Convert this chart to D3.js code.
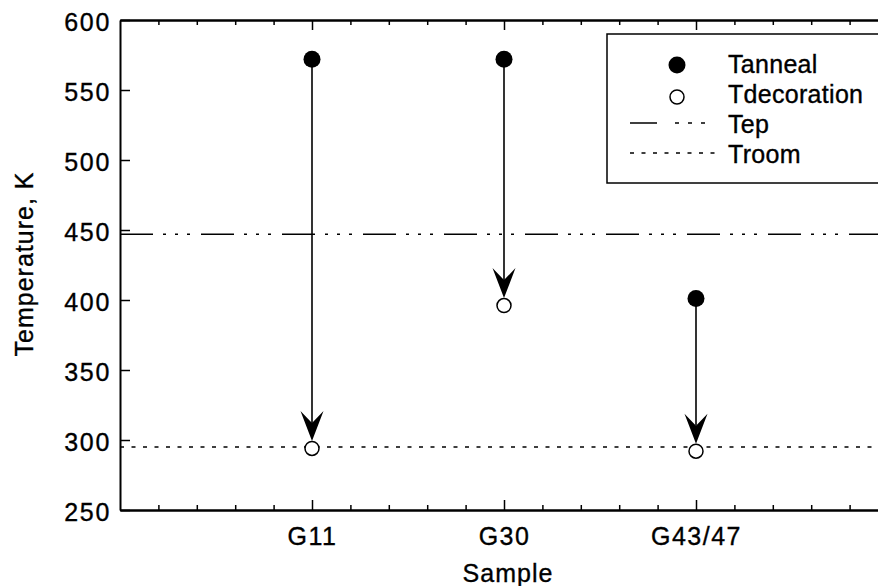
<!DOCTYPE html>
<html>
<head>
<meta charset="utf-8">
<script src="https://cdn.jsdelivr.net/npm/d3@7"></script>
<style>
  html, body { margin: 0; padding: 0; background: #fff; }
  svg { display: block; }
  text { font-family: "Liberation Sans", Arial, Helvetica, sans-serif; fill: #000; stroke: #000; stroke-width: 0.35px; }
</style>
</head>
<body>
<svg id="chart" width="878" height="586"></svg>
<script>
// Samples and temperatures (K)
const samples = ["G11", "G30", "G43/47"];
const tAnneal = [572, 572, 401];
const tDecoration = [294, 396, 292];
const tEp = 447;
const tRoom = 295;
const yTicks = [250, 300, 350, 400, 450, 500, 550, 600];

const svg = d3.select("#chart");
const W = 878;
const plotLeft = 120, plotRight = 888, plotTop = 20, plotBottom = 510;

const x = d3.scaleLinear().domain([0, 4]).range([plotLeft, plotRight]);
const y = d3.scaleLinear().domain([250, 600]).range([plotBottom, plotTop]);

const FS = 25;

// Reference lines
const refLine = (v, dash) => svg.append("line")
  .attr("x1", plotLeft).attr("x2", W + 20)
  .attr("y1", y(v)).attr("y2", y(v))
  .attr("stroke", "#000").attr("stroke-width", 1.5)
  .attr("stroke-dasharray", dash);
refLine(tEp, "33,10,3,9,3,9,3,11");
refLine(tRoom, "4,7.5");

// Axes: ticks pointing inward
const minorTicks = d3.range(0, 4.001, 0.2).filter(v => Math.abs(v - Math.round(v)) > 1e-6);
const majorTicks = [1, 2, 3];

const axisG = svg.append("g");
const xBottom = d3.axisBottom(x).tickValues(minorTicks).tickSizeInner(-5).tickSizeOuter(0).tickFormat("");
axisG.append("g").attr("transform", `translate(0,${plotBottom})`).call(xBottom);
const xBottomMajor = d3.axisBottom(x).tickValues(majorTicks).tickSizeInner(-10).tickSizeOuter(0)
  .tickFormat(i => samples[i - 1]);
const gBM = axisG.append("g").attr("transform", `translate(0,${plotBottom})`).call(xBottomMajor);
gBM.selectAll("text").attr("y", 35).attr("dy", null)
  .style("font-size", FS + "px").style("letter-spacing", "1.5px");
gBM.attr("font-family", null).attr("font-size", null);

const xTop = d3.axisTop(x).tickValues(minorTicks).tickSizeInner(-5).tickSizeOuter(0).tickFormat("");
axisG.append("g").attr("transform", `translate(0,${plotTop})`).call(xTop);
const xTopMajor = d3.axisTop(x).tickValues(majorTicks).tickSizeInner(-10).tickSizeOuter(0).tickFormat("");
axisG.append("g").attr("transform", `translate(0,${plotTop})`).call(xTopMajor);

const yAxis = d3.axisLeft(y).tickValues(yTicks).tickSizeInner(-10).tickSizeOuter(0);
const gY = axisG.append("g").attr("transform", `translate(${plotLeft},0)`).call(yAxis);
gY.selectAll("text").attr("dy", "0.42em").attr("x", -9)
  .style("font-size", FS + "px").style("letter-spacing", "1.7px");
gY.attr("font-family", null).attr("font-size", null);

axisG.selectAll(".domain").attr("stroke", "#000").attr("stroke-width", 2);
axisG.selectAll(".tick line").attr("stroke", "#000").attr("stroke-width", 1.5);
axisG.selectAll("text").attr("fill", "#000");

// axis titles
svg.append("text")
  .attr("transform", `translate(33,264) rotate(-90)`)
  .attr("text-anchor", "middle")
  .style("font-size", FS + "px").style("letter-spacing", "1px")
  .text("Temperature, K");
svg.append("text")
  .attr("x", 508).attr("y", 582)
  .attr("text-anchor", "middle")
  .style("font-size", FS + "px").style("letter-spacing", "1px")
  .text("Sample");

// Arrows from anneal to decoration temperature
const rOpen = 7, rFilled = 8.5;
const headLen = 30, headHalf = 11.5, notch = 18;
samples.forEach((s, i) => {
  const cx = x(i + 1);
  const y0 = y(tAnneal[i]);
  const tip = y(tDecoration[i]) - rOpen - 0.5;
  svg.append("line")
    .attr("x1", cx).attr("x2", cx)
    .attr("y1", y0).attr("y2", tip - notch)
    .attr("stroke", "#000").attr("stroke-width", 1.6);
  svg.append("path")
    .attr("d", `M${cx},${tip} L${cx - headHalf},${tip - headLen} L${cx},${tip - notch} L${cx + headHalf},${tip - headLen} Z`)
    .attr("fill", "#000");
});

// markers
svg.selectAll("circle.anneal").data(tAnneal).enter().append("circle")
  .attr("class", "anneal")
  .attr("cx", (d, i) => x(i + 1)).attr("cy", d => y(d))
  .attr("r", rFilled).attr("fill", "#000");
svg.selectAll("circle.deco").data(tDecoration).enter().append("circle")
  .attr("class", "deco")
  .attr("cx", (d, i) => x(i + 1)).attr("cy", d => y(d))
  .attr("r", rOpen).attr("fill", "#fff").attr("stroke", "#000").attr("stroke-width", 1.5);

// Legend
const lg = svg.append("g");
lg.append("rect")
  .attr("x", 607).attr("y", 34).attr("width", 300).attr("height", 149)
  .attr("fill", "#fff").attr("stroke", "#000").attr("stroke-width", 1.5);
const legendItems = [
  { label: "Tanneal", kind: "filled", y: 65, base: 73 },
  { label: "Tdecoration", kind: "open", y: 97, base: 103 },
  { label: "Tep", kind: "ep", y: 123, base: 133 },
  { label: "Troom", kind: "room", y: 153, base: 163 }
];
legendItems.forEach(it => {
  if (it.kind === "filled") {
    lg.append("circle").attr("cx", 677).attr("cy", it.y).attr("r", rFilled).attr("fill", "#000");
  } else if (it.kind === "open") {
    lg.append("circle").attr("cx", 677).attr("cy", it.y).attr("r", rOpen)
      .attr("fill", "#fff").attr("stroke", "#000").attr("stroke-width", 1.5);
  } else {
    lg.append("line").attr("x1", 630).attr("x2", 722).attr("y1", it.y).attr("y2", it.y)
      .attr("stroke", "#000").attr("stroke-width", 1.5)
      .attr("stroke-dasharray", it.kind === "ep" ? "27,18,4,9,4,9,4,40" : "4,7.5");
  }
  lg.append("text").attr("x", 728).attr("y", it.base)
    .style("font-size", FS + "px").style("letter-spacing", "0.3px")
    .text(it.label);
});
</script>
</body>
</html>
